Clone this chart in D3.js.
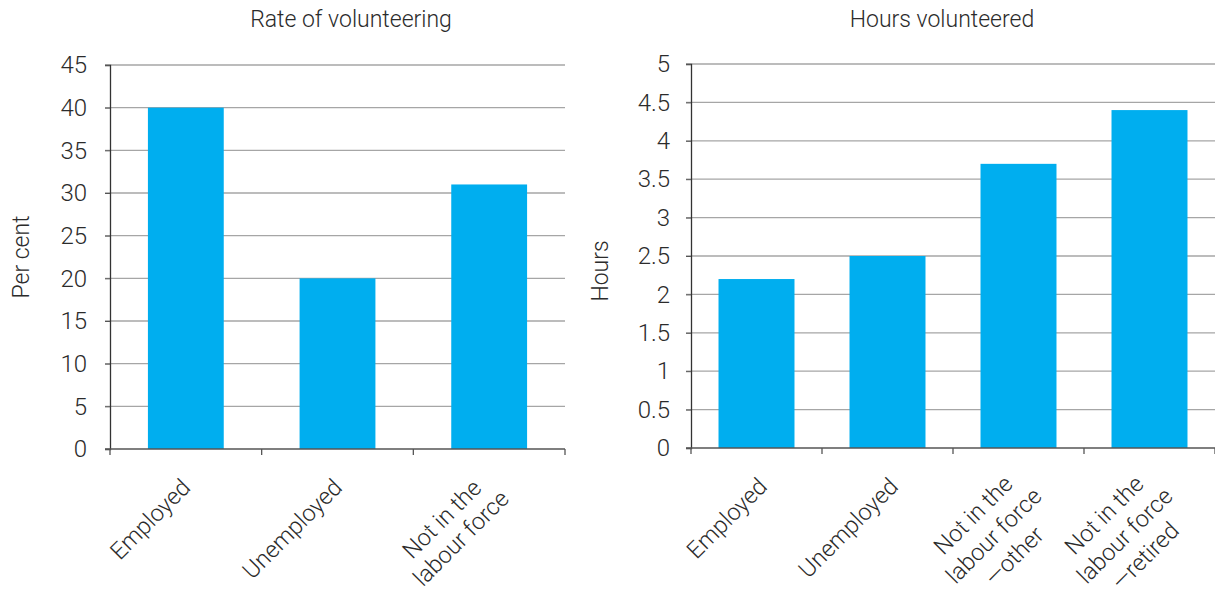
<!DOCTYPE html>
<meta charset="utf-8">
<style type="text/css">
	body { margin: 0; background: #fff; }
	svg { display: block; }
	text { font-family: Roboto, "Liberation Sans", sans-serif; font-weight: 300; fill: #2b2b2b; }
</style>
<body></body>
<script src="https://d3js.org/d3.v7.min.js"></script>
<script>

	// left panel data
	var rateTitle = "Rate of volunteering";
	var rateAxisLabel = "Per cent";
	var rateCategories = [["Employed"], ["Unemployed"], ["Not in the", "labour force"]];
	var rateValues = [40, 20, 31];
	var rateTicks = [0, 5, 10, 15, 20, 25, 30, 35, 40, 45];

	// right panel data
	var hoursTitle = "Hours volunteered";
	var hoursAxisLabel = "Hours";
	var hoursCategories = [["Employed"], ["Unemployed"],
		["Not in the", "labour force", "\u2014other"],
		["Not in the", "labour force", "\u2014retired"]];
	var hoursValues = [2.2, 2.5, 3.7, 4.4];
	var hoursTicks = [0, 0.5, 1, 1.5, 2, 2.5, 3, 3.5, 4, 4.5, 5];

	var width = 1215, height = 592;
	var barColor = "#00aeef";

	var svg = d3.select("body").append("svg")
		.attr("width", width)
		.attr("height", height);

	function drawPanel(opt) {
		var g = svg.append("g");
		var n = opt.categories.length;

		var xScale = d3.scaleBand()
			.domain(d3.range(n))
			.range([opt.x0, opt.x1])
			.paddingInner(opt.pad)
			.paddingOuter(opt.pad / 2);

		var yScale = d3.scaleLinear()
			.domain([0, d3.max(opt.ticks)])
			.range([opt.y0, opt.y1]);

		var step = (opt.x1 - opt.x0) / n;

		// gridlines
		g.selectAll("line.grid")
			.data(opt.ticks.slice(1))
			.enter()
			.append("line")
			.attr("class", "grid")
			.attr("x1", opt.x0 - 5)
			.attr("x2", opt.x1)
			.attr("y1", function(d) { return yScale(d); })
			.attr("y2", function(d) { return yScale(d); })
			.attr("stroke", "#a6a6a6")
			.attr("stroke-width", 1.3);

		// bars
		g.selectAll("rect")
			.data(opt.values)
			.enter()
			.append("rect")
			.attr("x", function(d, i) { return xScale(i); })
			.attr("y", function(d) { return yScale(d); })
			.attr("width", xScale.bandwidth())
			.attr("height", function(d) { return opt.y0 - yScale(d); })
			.attr("fill", barColor);

		// y axis
		var yAxis = d3.axisLeft(yScale)
			.tickValues(opt.ticks)
			.tickSize(5)
			.tickPadding(opt.tickPad)
			.tickFormat(d3.format("~g"));
		var ya = g.append("g")
			.attr("transform", "translate(" + opt.x0 + ",0)")
			.call(yAxis);
		ya.select(".domain").attr("stroke", "#333").attr("stroke-width", 1.3);
		ya.selectAll(".tick line").attr("stroke", "#555");
		ya.selectAll(".tick text")
			.attr("font-size", "24px")
			.attr("font-family", null)
			.attr("fill", "#2b2b2b");

		// x axis baseline and ticks at band boundaries
		g.append("line")
			.attr("x1", opt.x0 - 5)
			.attr("x2", opt.x1)
			.attr("y1", opt.y0)
			.attr("y2", opt.y0)
			.attr("stroke", "#555")
			.attr("stroke-width", 1.5);
		g.selectAll("line.xtick")
			.data(d3.range(n + 1))
			.enter()
			.append("line")
			.attr("class", "xtick")
			.attr("x1", function(d) { return opt.x0 + d * step; })
			.attr("x2", function(d) { return opt.x0 + d * step; })
			.attr("y1", opt.y0)
			.attr("y2", opt.y0 + 6)
			.attr("stroke", "#555")
			.attr("stroke-width", 1.3);

		// category labels, rotated -45, lines centred in a block
		opt.categories.forEach(function(lines, i) {
			var cx = xScale(i) + xScale.bandwidth() / 2;
			var off = opt.labelOffset[lines.length];
			var lh = lines.length > 2 ? 29 : 27;
			var lg = g.append("g")
				.attr("transform", "translate(" + (cx + off[0]) + "," + (opt.y0 + off[1]) + ") rotate(-45)");
			var texts = lg.selectAll("text")
				.data(lines)
				.enter()
				.append("text")
				.attr("font-size", "23.5px")
				.attr("text-anchor", "middle")
				.attr("y", function(d, j) { return j * lh + 17; })
				.text(function(d) { return d; });
			var maxW = 0;
			texts.each(function() { maxW = Math.max(maxW, this.getComputedTextLength()); });
			texts.attr("x", -maxW / 2);
		});

		// title
		g.append("text")
			.attr("x", opt.titleX)
			.attr("y", 27)
			.attr("text-anchor", "middle")
			.attr("font-size", "23px")
			.text(opt.title);

		// y axis label
		g.append("text")
			.attr("transform", "translate(" + opt.labelX + "," + opt.labelY + ") rotate(-90)")
			.attr("text-anchor", "middle")
			.attr("font-size", "23px")
			.text(opt.axisLabel);
	}

	drawPanel({
		title: rateTitle, axisLabel: rateAxisLabel,
		categories: rateCategories, values: rateValues, ticks: rateTicks,
		x0: 110, x1: 565, y0: 449, y1: 65, pad: 0.5, tickPad: 18,
		titleX: 351, labelX: 29, labelY: 257,
		labelOffset: {1: [-6, 28], 2: [-10, 20]}
	});

	drawPanel({
		title: hoursTitle, axisLabel: hoursAxisLabel,
		categories: hoursCategories, values: hoursValues, ticks: hoursTicks,
		x0: 691, x1: 1215, y0: 448, y1: 64, pad: 0.42, tickPad: 16,
		titleX: 942, labelX: 608, labelY: 271,
		labelOffset: {1: [0, 28], 3: [-8, 17]}
	});

</script>
